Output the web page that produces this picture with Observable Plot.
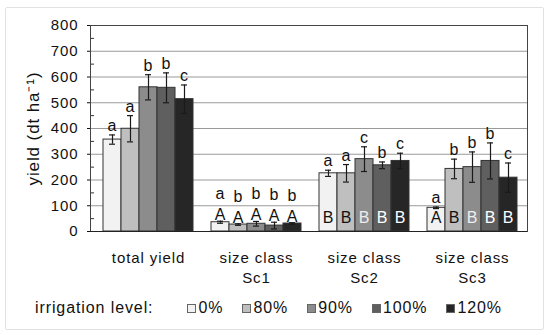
<!DOCTYPE html>
<html><head><meta charset="utf-8">
<script src="https://cdn.jsdelivr.net/npm/d3@7"></script>
<script src="https://cdn.jsdelivr.net/npm/@observablehq/plot@0.6"></script>
<style>
body{margin:0;background:#fff;font-family:"Liberation Sans",Arial,sans-serif;}
#wrap{position:relative;width:550px;height:335px;}
#border{position:absolute;left:5px;top:7px;width:537px;height:321px;border:1px solid #e2e2e2;border-radius:2px;}
#chart{position:absolute;left:0;top:0;}
#chart svg text{letter-spacing:0.9px;}
#legend{position:absolute;left:35px;top:298px;height:20px;display:flex;align-items:center;font-size:16px;letter-spacing:0.9px;color:#111;}
.item{display:flex;align-items:center;margin-right:19px;}
.sw{width:7px;height:7px;border:1px solid #666;margin-right:2px;}
</style></head><body>
<div id="wrap"><div id="border"></div><div id="chart"></div><div id="legend"></div></div>
<script>
const groupLabels = ["total yield", "size class\nSc1", "size class\nSc2", "size class\nSc3"];
const levels = ["0%", "80%", "90%", "100%", "120%"];
const meanTotal = [357, 399, 560, 558, 514];
const errTotal  = [18, 51, 49, 58, 55];
const meanSc1 = [36, 27, 30, 23, 31];
const errSc1  = [4, 3, 9, 13, 3];
const meanSc2 = [226, 226, 281, 257, 274];
const errSc2  = [12, 34, 48, 13, 30];
const meanSc3 = [92, 243, 250, 274, 209];
const errSc3  = [3, 38, 59, 70, 57];
const lowerTotal = ["a", "a", "b", "b", "c"];
const lowerSc1 = ["a", "b", "b", "b", "b"];
const lowerSc2 = ["a", "a", "c", "b", "c"];
const lowerSc3 = ["a", "b", "b", "b", "c"];
const upperTotal = ["", "", "", "", ""];
const upperSc1 = ["A", "A", "A", "A", "A"];
const upperSc2 = ["B", "B", "B", "B", "B"];
const upperSc3 = ["A", "B", "B", "B", "B"];
const colors = ["#f2f2f2", "#bfbfbf", "#8c8c8c", "#5f5f5f", "#262626"];
const yTicks = [0, 100, 200, 300, 400, 500, 600, 700, 800];
const yMinorTicks = [50, 150, 250, 350, 450, 550, 650, 750];
const yLabel = "yield (dt ha\u207B\u00B9)";
const legendTitle = "irrigation level:";

const means = [meanTotal, meanSc1, meanSc2, meanSc3];
const errs = [errTotal, errSc1, errSc2, errSc3];
const lowers = [lowerTotal, lowerSc1, lowerSc2, lowerSc3];
const uppers = [upperTotal, upperSc1, upperSc2, upperSc3];

const rows = [];
const domain = [];
groupLabels.forEach((g, gi) => {
  if (gi) domain.push("gap" + gi);
  levels.forEach((l, li) => {
    const key = gi + "|" + l;
    domain.push(key);
    rows.push({group: g, gi, level: l, li, key, value: means[gi][li], err: errs[gi][li], lower: lowers[gi][li], upper: uppers[gi][li]});
  });
});
const midKeys = groupLabels.map((g, gi) => gi + "|" + levels[2]);
const ink = "#1a1a1a";
const W = 550, mL = 90, mR = 23;

const chart = Plot.plot({
  width: W, height: 292,
  marginLeft: mL, marginRight: mR, marginTop: 25, marginBottom: 61,
  style: {fontFamily: "'Liberation Sans', Arial, sans-serif", fontSize: "15px", background: "transparent", color: "#111", overflow: "visible"},
  x: {domain, paddingInner: 0, paddingOuter: 0.58, align: 0.57, axis: null},
  y: {domain: [0, 800]},
  color: {domain: levels, range: colors},
  marks: [
    Plot.gridY(yTicks, {stroke: "#9a9a9a", strokeOpacity: 1}),
    Plot.axisY(yTicks, {tickSize: 3, tickPadding: 9, fontSize: 15, label: null}),
    Plot.tickY(yMinorTicks, {y: d => d, insetRight: W - mL - mR - 4, stroke: "#333"}),
    Plot.barY(rows, {x: "key", y: "value", fill: "level", stroke: "#333", strokeWidth: 1}),
    Plot.ruleX(rows, {x: "key", y1: d => d.value - d.err, y2: d => d.value + d.err, stroke: ink, strokeWidth: 1.2}),
    Plot.tickY(rows, {x: "key", y: d => d.value + d.err, insetLeft: 6, insetRight: 6, stroke: ink, strokeWidth: 1.2}),
    Plot.tickY(rows, {x: "key", y: d => d.value - d.err, insetLeft: 6, insetRight: 6, stroke: ink, strokeWidth: 1.2}),
    Plot.frame({stroke: "#444"}),
    Plot.ruleY([0], {stroke: "#222"}),
    Plot.axisX(midKeys, {tickSize: 0, tickPadding: 17, tickFormat: k => groupLabels[+k.split("|")[0]], fontSize: 15, lineHeight: 1.33, label: null}),
    Plot.text(rows.filter(d => d.gi !== 1), {x: "key", y: d => d.value + d.err, text: "lower", lineAnchor: "bottom", dy: -4, fontSize: 16, fill: "#111"}),
    Plot.text(rows.filter(d => d.gi === 1), {x: "key", y: d => d.value + d.err, text: "lower", lineAnchor: "bottom", dy: -22, fontSize: 16, fill: "#111"}),
    Plot.text(rows.filter(d => d.gi === 1), {x: "key", y: d => d.value + d.err, text: "upper", lineAnchor: "bottom", dy: -1, fontSize: 16, fill: "#111"}),
    Plot.text(rows.filter(d => d.gi >= 2), {x: "key", y: () => 0, text: "upper", lineAnchor: "bottom", dy: -9, fontSize: 16, fill: d => d.li >= 2 ? (d.li === 2 ? "#eee" : "#fff") : "#111"}),
    Plot.text([yLabel], {text: d => d, frameAnchor: "left", textAnchor: "middle", rotate: -90, dx: -57, fontSize: 17, fill: "#111"})
  ]
});
document.getElementById("chart").appendChild(chart);

const legend = document.getElementById("legend");
const title = document.createElement("span");
title.textContent = legendTitle;
title.style.marginRight = "34px";
legend.appendChild(title);
levels.forEach((l, i) => {
  const item = document.createElement("span");
  item.className = "item";
  const sw = document.createElement("span");
  sw.className = "sw";
  sw.style.background = colors[i];
  item.appendChild(sw);
  const t = document.createElement("span");
  t.textContent = l;
  item.appendChild(t);
  legend.appendChild(item);
});
</script>
</body></html>
